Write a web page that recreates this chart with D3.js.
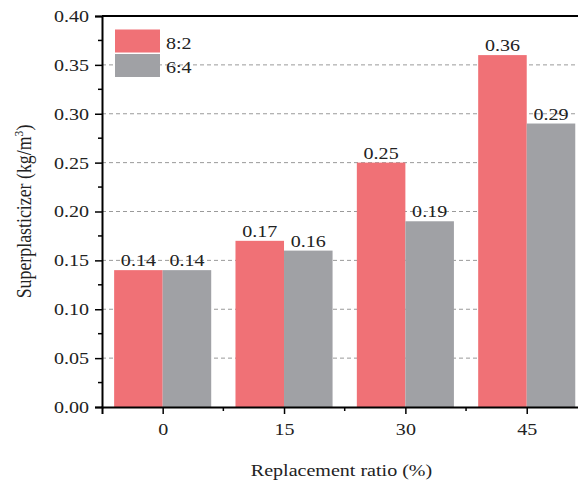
<!DOCTYPE html>
<html>
<head>
<meta charset="utf-8">
<script src="https://cdn.jsdelivr.net/npm/d3@7"></script>
<style>
  body { margin: 0; background: #fff; }
  svg { display: block; }
  svg text { font-family: "Liberation Serif", "Times New Roman", serif; }
</style>
</head>
<body>
<div></div>
<script>
const width = 578
const height = 481

// data
const ratios = [0, 15, 30, 45]
const series = ['8:2', '6:4']
const values82 = [0.14, 0.17, 0.25, 0.36]
const values64 = [0.14, 0.16, 0.19, 0.29]
const yTicks = [0, 0.05, 0.10, 0.15, 0.20, 0.25, 0.30, 0.35, 0.40]
const colors = ['#f07176', '#a0a1a5']

const fs = 17      // font size
const sx = 1.18    // text in the picture is a bit wide

let svg = d3.select('div').append('svg')
    .attr('width', width)
    .attr('height', height)

const plotLeft = 102, plotTop = 16, plotBottom = 407

const x = d3.scaleLinear().domain([-7.5, 52.5]).range([plotLeft, plotLeft + 60 * 8.09])
const y = d3.scaleLinear().domain([0, 0.4]).range([plotBottom, plotTop])
const barW = x(6) - x(0)

function wideText(g, px, py) {
    return g.append('text')
        .attr('transform', 'translate(' + px + ',' + py + ') scale(' + sx + ',1)')
        .attr('font-size', fs)
        .attr('fill', '#222')
}

// grid
svg.append('g').selectAll('line')
    .data(yTicks.filter(d => d > 0 && d < 0.4))
    .enter().append('line')
    .attr('x1', plotLeft).attr('x2', width)
    .attr('y1', d => y(d)).attr('y2', d => y(d))
    .attr('stroke', '#9a9a9a').attr('stroke-width', 1)
    .attr('stroke-dasharray', '4,3')

// bars
const data = []
ratios.forEach((r, i) => {
    data.push({ r: r, v: values82[i], s: 0 })
    data.push({ r: r, v: values64[i], s: 1 })
})

svg.append('g').selectAll('rect')
    .data(data)
    .enter().append('rect')
    .attr('x', d => d.s == 0 ? x(d.r) - barW : x(d.r))
    .attr('width', barW)
    .attr('y', d => y(d.v))
    .attr('height', d => y(0) - y(d.v))
    .attr('fill', d => colors[d.s])

let labels = svg.append('g')
data.forEach(d => {
    let cx = d.s == 0 ? x(d.r) - barW / 2 : x(d.r) + barW / 2
    wideText(labels, cx, y(d.v) - 4)
        .attr('text-anchor', 'middle')
        .text(d.v.toFixed(2))
})

// axes
const yAxis = d3.axisLeft(y).tickValues(yTicks).tickFormat(d3.format('.2f')).tickSize(7).tickPadding(6)
let gy = svg.append('g').attr('transform', 'translate(' + plotLeft + ',0)').call(yAxis)
gy.selectAll('.tick text')
    .attr('font-size', fs).attr('fill', '#222')
    .attr('x', -13 / sx)
    .attr('transform', 'scale(' + sx + ',1)')
gy.append('g').selectAll('line')
    .data(d3.range(0.025, 0.4, 0.05))
    .enter().append('line')
    .attr('x1', 0).attr('x2', -4)
    .attr('y1', d => y(d)).attr('y2', d => y(d))
    .attr('stroke', '#000').attr('stroke-width', 1.5)
gy.selectAll('.tick line').attr('stroke-width', 1.5)

const xAxis = d3.axisBottom(x).tickValues(ratios).tickFormat(d3.format('d')).tickSize(7).tickPadding(9)
let gx = svg.append('g').attr('transform', 'translate(0,' + plotBottom + ')').call(xAxis)
gx.selectAll('.tick text')
    .attr('font-size', fs).attr('fill', '#222')
    .attr('transform', 'scale(' + sx + ',1)')
gx.append('g').selectAll('line')
    .data([7.5, 22.5, 37.5])
    .enter().append('line')
    .attr('x1', d => x(d)).attr('x2', d => x(d))
    .attr('y1', 0).attr('y2', 4)
    .attr('stroke', '#000').attr('stroke-width', 1.5)
gx.selectAll('.tick line').attr('stroke-width', 1.5)

svg.selectAll('.domain').attr('stroke-width', 2)

// top border
svg.append('line')
    .attr('x1', plotLeft).attr('x2', width)
    .attr('y1', plotTop).attr('y2', plotTop)
    .attr('stroke', '#000').attr('stroke-width', 2)

// axis titles
wideText(svg, 341.5, 476)
    .attr('text-anchor', 'middle')
    .text('Replacement ratio (%)')

let yt = svg.append('text')
    .attr('transform', 'translate(31,' + (plotTop + plotBottom) / 2 + ') rotate(-90) scale(1.05,' + sx + ')')
    .attr('text-anchor', 'middle')
    .attr('font-size', fs)
    .attr('fill', '#222')
yt.append('tspan').text('Superplasticizer (kg/m')
yt.append('tspan').attr('font-size', 11).attr('dy', -7).text('3')
yt.append('tspan').attr('dy', 7).text(')')

// legend
const legend = svg.append('g').selectAll('g')
    .data(series)
    .enter().append('g')
    .attr('transform', (d, i) => 'translate(115,' + (29.5 + i * 24.5) + ')')
legend.append('rect')
    .attr('width', 45).attr('height', 23)
    .attr('fill', (d, i) => colors[i])
legend.each(function (d) {
    wideText(d3.select(this), 51, 19).text(d)
})
</script>
</body>
</html>
